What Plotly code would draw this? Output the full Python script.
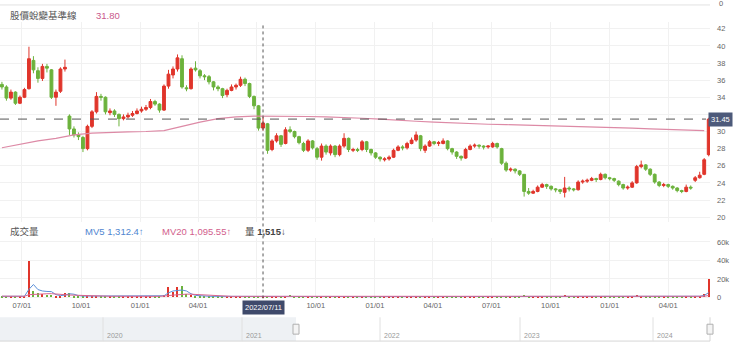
import plotly.graph_objects as go
import pandas as pd

W, H = 740, 353
PR = 710  # right edge of plot area in px

# ---------------- data (weekly) ----------------
dates = pd.date_range("2021-05-31", periods=158, freq="7D")

open_ = [35.5, 35.2, 33.9, 34.6, 33.3, 34.0, 35.0, 38.3, 37.1, 36.2,
         37.6, 37.2, 34.0, 34.7, 37.3, 31.8, 30.3, 29.6, 29.3, 28.0,
         30.6, 32.3, 34.1, 34.0, 32.2, 32.4, 32.0, 31.5, 31.7, 31.9,
         32.1, 32.4, 32.6, 32.8, 33.5, 33.2, 32.5, 35.3, 36.6, 37.3,
         38.5, 35.1, 35.0, 37.4, 37.1, 36.5, 36.4, 35.8, 35.2, 35.0,
         34.3, 34.8, 35.2, 35.4, 36.1, 35.6, 34.1, 33.0, 30.4, 30.9,
         27.9, 28.9, 29.5, 28.6, 30.2, 30.0, 29.4, 28.6, 27.8, 28.9,
         28.0, 27.0, 28.3, 27.5, 28.3, 27.3, 28.3, 29.2, 27.8, 27.9,
         27.9, 28.8, 27.9, 27.5, 27.0, 26.7, 26.8, 27.0, 27.8, 28.2,
         28.1, 28.6, 29.0, 29.5, 27.8, 28.3, 28.8, 28.6, 28.6, 28.9,
         28.0, 27.6, 27.1, 26.9, 27.9, 28.3, 28.4, 28.3, 28.2, 28.2,
         28.6, 28.0, 26.3, 25.5, 25.6, 25.4, 25.0, 23.0, 22.8, 23.0,
         23.5, 23.8, 23.6, 23.3, 23.2, 22.9, 23.4, 23.3, 23.2, 24.1,
         24.2, 24.3, 24.5, 24.4, 25.0, 24.6, 24.5, 24.2, 23.8, 23.4,
         23.5, 24.0, 25.9, 26.1, 25.6, 25.0, 24.1, 23.7, 23.8, 23.6,
         23.4, 23.1, 23.0, 23.5, 24.3, 24.6, 25.0, 27.3]
high = [35.8, 35.4, 34.9, 34.7, 34.2, 35.1, 39.9, 38.8, 37.5, 37.9,
        37.9, 37.3, 34.9, 37.5, 38.4, 32.0, 30.6, 29.9, 29.5, 30.8,
        32.5, 34.6, 34.4, 34.1, 32.7, 32.6, 32.1, 32.0, 32.2, 32.4,
        32.7, 32.9, 33.1, 33.8, 33.7, 33.3, 35.5, 37.2, 37.6, 39.0,
        38.9, 35.4, 37.5, 38.2, 37.3, 36.7, 36.6, 35.9, 35.4, 35.1,
        35.0, 35.5, 35.6, 36.4, 36.3, 35.7, 34.2, 33.1, 31.7, 31.0,
        29.1, 29.8, 29.6, 30.5, 30.6, 30.1, 29.5, 28.8, 29.1, 29.0,
        28.2, 28.6, 28.5, 28.5, 28.4, 28.5, 29.8, 29.3, 28.1, 28.1,
        29.0, 28.9, 28.0, 27.6, 27.1, 27.0, 27.2, 28.0, 28.4, 28.4,
        28.8, 29.3, 30.0, 29.6, 28.5, 29.0, 28.9, 28.9, 29.2, 29.0,
        28.1, 27.7, 27.2, 28.1, 28.5, 28.6, 28.5, 28.4, 28.4, 28.8,
        28.7, 28.1, 26.5, 25.8, 25.7, 25.5, 25.0, 23.4, 23.2, 23.7,
        24.0, 23.9, 23.7, 23.4, 23.3, 24.7, 23.6, 23.4, 24.3, 24.4,
        24.5, 24.7, 24.6, 25.2, 25.1, 24.7, 24.6, 24.3, 23.9, 23.7,
        24.2, 26.1, 26.6, 26.2, 25.7, 25.1, 24.2, 24.0, 23.9, 23.7,
        23.5, 23.2, 23.8, 23.7, 24.8, 25.3, 26.9, 31.6]
low = [34.9, 33.6, 33.7, 33.1, 33.2, 33.9, 34.9, 36.8, 35.7, 35.9,
       36.9, 33.8, 33.0, 34.5, 37.0, 29.6, 29.3, 29.0, 27.6, 27.8,
       30.4, 32.1, 33.6, 32.0, 31.9, 31.7, 30.6, 31.3, 31.5, 31.7,
       32.0, 32.2, 32.4, 32.6, 33.0, 32.2, 32.4, 35.0, 36.2, 37.0,
       35.0, 34.7, 34.9, 37.0, 36.2, 36.0, 35.5, 34.8, 34.7, 33.9,
       34.0, 34.7, 34.9, 35.2, 35.3, 33.9, 32.6, 30.1, 30.1, 27.4,
       27.7, 28.7, 28.2, 28.5, 29.8, 29.2, 28.5, 27.6, 27.6, 27.9,
       26.7, 26.6, 27.3, 27.2, 27.0, 27.1, 28.1, 27.6, 27.6, 27.6,
       27.7, 27.6, 27.2, 26.8, 26.5, 26.5, 26.6, 26.9, 27.7, 27.8,
       27.9, 28.5, 28.8, 27.7, 27.5, 28.2, 28.4, 28.3, 28.5, 27.8,
       27.3, 26.8, 26.6, 26.8, 27.8, 28.1, 28.0, 27.9, 28.0, 28.1,
       28.0, 26.1, 25.3, 25.3, 25.1, 24.8, 22.4, 22.6, 22.7, 22.9,
       23.4, 23.3, 23.1, 22.9, 22.7, 22.3, 23.0, 23.0, 23.1, 23.9,
       24.0, 24.2, 24.1, 24.3, 24.4, 24.3, 24.1, 23.6, 23.2, 23.2,
       23.4, 23.9, 25.7, 25.4, 24.8, 23.9, 23.5, 23.5, 23.4, 23.2,
       22.9, 22.8, 22.9, 23.2, 24.1, 24.5, 24.9, 27.1]
close = [35.2, 33.9, 34.6, 33.3, 34.0, 34.9, 38.5, 37.2, 36.2, 37.6,
         37.4, 34.0, 34.6, 37.3, 37.5, 30.3, 29.6, 29.4, 28.0, 30.6,
         32.3, 34.1, 34.0, 32.3, 32.4, 32.0, 31.5, 31.7, 31.9, 32.1,
         32.4, 32.6, 32.8, 33.5, 33.2, 32.5, 35.3, 36.7, 37.3, 38.6,
         35.2, 35.0, 37.3, 37.2, 36.5, 36.4, 35.8, 35.2, 35.0, 34.2,
         34.8, 35.2, 35.4, 36.1, 35.6, 34.1, 33.0, 30.4, 31.0, 27.8,
         28.9, 29.5, 28.5, 30.2, 30.0, 29.4, 28.7, 27.8, 28.9, 28.1,
         27.0, 28.3, 27.6, 28.3, 27.3, 28.3, 29.2, 27.9, 27.9, 27.8,
         28.8, 27.9, 27.5, 27.0, 26.8, 26.8, 27.0, 27.8, 28.2, 28.1,
         28.6, 29.0, 29.6, 28.0, 28.3, 28.8, 28.6, 28.7, 28.9, 28.0,
         27.6, 27.1, 26.9, 27.9, 28.3, 28.4, 28.3, 28.2, 28.3, 28.6,
         28.2, 26.3, 25.5, 25.6, 25.4, 25.0, 23.0, 22.8, 23.0, 23.5,
         23.8, 23.6, 23.3, 23.2, 23.0, 23.4, 23.3, 23.2, 24.1, 24.2,
         24.3, 24.5, 24.4, 25.0, 24.6, 24.5, 24.3, 23.8, 23.4, 23.5,
         24.0, 25.9, 26.1, 25.6, 25.0, 24.1, 23.7, 23.8, 23.6, 23.4,
         23.1, 23.0, 23.5, 23.4, 24.6, 24.9, 26.7, 31.45]

vol_k = [1.3, 1.1, 1.4, 1.2, 1.0, 1.5, 39.0, 7.5, 5.0, 3.5,
         3.0, 2.2, 1.6, 1.4, 4.5, 5.0, 2.0, 1.5, 1.3, 1.6,
         1.4, 1.8, 1.5, 1.2, 1.1, 1.0, 1.2, 1.0, 0.9, 1.1,
         1.0, 1.2, 1.1, 1.3, 1.2, 1.4, 2.5, 11.5, 6.0, 11.0,
         12.0, 4.0, 2.5, 1.8, 1.5, 1.3, 1.2, 1.1, 1.2, 1.0,
         1.1, 1.2, 1.0, 1.1, 1.3, 1.4, 1.6, 1.8, 1.5, 2.0,
         1.4, 1.2, 1.1, 1.3, 2.8, 1.2, 1.0, 1.1, 1.0, 0.9,
         1.2, 1.0, 0.9, 1.0, 1.1, 0.9, 1.6, 1.0, 0.9, 0.8,
         1.0, 0.9, 0.8, 0.9, 1.0, 0.8, 0.9, 1.1, 1.0, 0.9,
         1.2, 1.4, 1.8, 1.3, 1.0, 1.1, 0.9, 1.0, 1.2, 1.0,
         0.9, 0.8, 0.9, 1.1, 1.0, 0.9, 0.8, 0.9, 1.0, 1.1,
         0.9, 1.8, 1.3, 1.0, 0.9, 1.0, 2.5, 1.4, 1.1, 1.0,
         1.2, 1.0, 0.9, 0.8, 0.9, 3.0, 1.2, 1.0, 1.3, 1.0,
         0.9, 1.0, 0.9, 1.2, 1.0, 0.9, 0.8, 0.9, 1.0, 0.8,
         1.1, 2.2, 1.8, 1.2, 1.0, 1.1, 0.9, 0.8, 0.9, 0.8,
         0.9, 0.8, 1.0, 0.9, 1.6, 1.4, 4.0, 20.0]
mv5_k = [1.2, 1.2, 1.3, 1.2, 1.2, 1.3, 8.8, 14.0, 8.5, 7.0,
         6.5, 6.3, 3.0, 2.0, 2.5, 4.0, 3.5, 2.0, 1.5, 1.5,
         1.4, 1.6, 1.5, 1.3, 1.1, 1.1, 1.1, 1.0, 1.0, 1.0,
         1.1, 1.1, 1.1, 1.2, 1.2, 1.3, 1.8, 5.0, 7.0, 7.5,
         8.0, 7.0, 4.0, 2.2, 1.7, 1.4, 1.3, 1.2, 1.2, 1.1,
         1.1, 1.1, 1.1, 1.1, 1.2, 1.3, 1.5, 1.6, 1.6, 1.7,
         1.6, 1.4, 1.2, 1.2, 1.8, 1.6, 1.2, 1.1, 1.0, 1.0,
         1.0, 1.0, 1.0, 1.0, 1.0, 1.0, 1.2, 1.1, 1.0, 0.9,
         0.9, 0.9, 0.9, 0.9, 0.9, 0.9, 0.9, 1.0, 1.0, 1.0,
         1.1, 1.2, 1.5, 1.4, 1.2, 1.1, 1.0, 1.0, 1.1, 1.0,
         1.0, 0.9, 0.9, 1.0, 1.0, 1.0, 0.9, 0.9, 0.9, 1.0,
         1.0, 1.3, 1.3, 1.1, 1.0, 1.0, 1.6, 1.5, 1.2, 1.1,
         1.1, 1.0, 1.0, 0.9, 0.9, 1.6, 1.5, 1.2, 1.2, 1.1,
         1.0, 1.0, 1.0, 1.0, 1.0, 1.0, 0.9, 0.9, 0.9, 0.9,
         1.0, 1.5, 1.6, 1.4, 1.1, 1.0, 1.0, 0.9, 0.9, 0.8,
         0.9, 0.9, 0.9, 0.9, 1.2, 1.3, 2.2, 5.2]
mv20_k = [1.4, 1.4, 1.4, 1.3, 1.3, 1.3, 3.0, 3.4, 3.7, 3.9,
          4.0, 4.1, 4.0, 3.6, 3.0, 2.6, 2.4, 2.2, 1.9, 1.6,
          1.5, 1.5, 1.4, 1.4, 1.3, 1.3, 1.2, 1.2, 1.1, 1.1,
          1.1, 1.1, 1.1, 1.1, 1.2, 1.2, 1.3, 2.0, 2.5, 3.0,
          3.5, 3.6, 3.5, 3.2, 2.8, 2.4, 2.0, 1.6, 1.4, 1.3,
          1.2, 1.2, 1.2, 1.2, 1.2, 1.2, 1.3, 1.4, 1.4, 1.5,
          1.5, 1.5, 1.4, 1.3, 1.4, 1.4, 1.3, 1.2, 1.2, 1.1,
          1.1, 1.1, 1.0, 1.0, 1.0, 1.0, 1.0, 1.0, 1.0, 1.0,
          0.9, 0.9, 0.9, 0.9, 0.9, 0.9, 0.9, 0.9, 0.9, 0.9,
          1.0, 1.0, 1.1, 1.2, 1.2, 1.2, 1.1, 1.1, 1.1, 1.0,
          1.0, 1.0, 1.0, 1.0, 1.0, 1.0, 0.9, 0.9, 0.9, 0.9,
          0.9, 1.0, 1.1, 1.1, 1.1, 1.1, 1.3, 1.3, 1.3, 1.2,
          1.2, 1.1, 1.1, 1.0, 1.0, 1.2, 1.2, 1.2, 1.2, 1.1,
          1.1, 1.0, 1.0, 1.0, 1.0, 1.0, 1.0, 0.9, 0.9, 0.9,
          0.9, 1.1, 1.2, 1.2, 1.2, 1.1, 1.1, 1.0, 1.0, 0.9,
          0.9, 0.9, 0.9, 0.9, 1.0, 1.0, 1.3, 2.1]

# 股價蛻變基準線 (every 4 weeks)
base_dates = dates[::4]
base_vals = [28.1, 28.5, 28.9, 29.2, 29.6, 29.8, 29.9, 29.95, 30.0, 30.1,
             30.6, 31.1, 31.5, 31.7, 31.8, 31.8, 31.8, 31.75, 31.7, 31.65,
             31.55, 31.45, 31.3, 31.2, 31.1, 31.0, 30.9, 30.85, 30.8, 30.75,
             30.7, 30.6, 30.55, 30.5, 30.45, 30.4, 30.3, 30.25, 30.2, 30.1]

for arr in (open_, high, low, close, vol_k, mv5_k, mv20_k):
    assert len(arr) == len(dates), len(arr)
assert len(base_vals) == len(base_dates)

last_price = 31.45
cross_date = "2022-07-11"
price_ticks = list(range(20, 43, 2))
# the 32 label sits behind the last-price box in the reference
price_tick_text = ["" if v == 32 else str(v) for v in price_ticks]
vol_ticks = [0, 20, 40, 60]
vol_tick_text = ["0", "20k", "40k", "60k"]
x_tick_dates = ["2021-07-01", "2021-10-01", "2022-01-01", "2022-04-01", "2022-07-01",
                "2022-10-01", "2023-01-01", "2023-04-01", "2023-07-01", "2023-10-01",
                "2024-01-01", "2024-04-01"]
x_tick_text = ["07/01", "10/01", "01/01", "04/01", "", "10/01", "01/01", "04/01",
               "07/01", "10/01", "01/01", "04/01"]
nav_years = ["2020", "2021", "2022", "2023", "2024"]

# ---------------- styling helpers ----------------
FONT = "Liberation Sans, Arial, Noto Sans CJK TC, sans-serif"
UP, DOWN = "#e0352b", "#6cb23c"
GRID = "#f1f1f1"


def px(p):
    return p / PR


def py(p):
    return (H - p) / H


x_range = ["2021-05-28", "2024-06-05"]

fig = go.Figure()

fig.add_trace(go.Candlestick(
    x=dates, open=open_, high=high, low=low, close=close,
    increasing=dict(line=dict(color=UP, width=1), fillcolor=UP),
    decreasing=dict(line=dict(color=DOWN, width=1), fillcolor=DOWN),
    whiskerwidth=0, showlegend=False, hoverinfo="skip",
    xaxis="x", yaxis="y"))

fig.add_trace(go.Scatter(
    x=base_dates, y=base_vals, mode="lines",
    line=dict(color="#dd8aa6", width=1.2), showlegend=False,
    hoverinfo="skip", xaxis="x", yaxis="y"))

bar_colors = [UP if c >= o else DOWN for o, c in zip(open_, close)]
fig.add_trace(go.Bar(
    x=dates, y=vol_k, marker=dict(color=bar_colors, line=dict(width=0)),
    width=2 * 86400000, showlegend=False, hoverinfo="skip",
    xaxis="x2", yaxis="y2"))
fig.add_trace(go.Scatter(
    x=dates, y=mv5_k, mode="lines", line=dict(color="#5b8fd8", width=1),
    showlegend=False, hoverinfo="skip", xaxis="x2", yaxis="y2"))
fig.add_trace(go.Scatter(
    x=dates, y=mv20_k, mode="lines", line=dict(color="#d9648f", width=1),
    showlegend=False, hoverinfo="skip", xaxis="x2", yaxis="y2"))

price_dom = [py(224), py(22)]
vol_dom = [py(302), py(240)]
p_lo = 20 - (224 - 219) / 8.636
p_hi = 42 + (29 - 22) / 8.636
v_lo = -(302 - 300) / 0.933
v_hi = (300 - 240) / 0.933

tick_font = dict(family=FONT, size=7.5, color="#666")

fig.update_layout(
    width=W, height=H,
    margin=dict(l=0, r=W - PR, t=0, b=0),
    paper_bgcolor="white", plot_bgcolor="white",
    font=dict(family=FONT),
    showlegend=False,
    bargap=0,
    boxgap=0.1,
    xaxis=dict(domain=[0, 1], anchor="y", type="date", range=x_range,
               rangeslider=dict(visible=False), showticklabels=False,
               tickvals=x_tick_dates, showgrid=True, gridcolor=GRID,
               zeroline=False, showline=False, ticks=""),
    yaxis=dict(domain=price_dom, anchor="x", side="right", range=[p_lo, p_hi],
               tickvals=price_ticks, ticktext=price_tick_text, tickfont=tick_font,
               showgrid=True, gridcolor=GRID, zeroline=False, showline=False,
               ticks="", ticklabelstandoff=6),
    xaxis2=dict(domain=[0, 1], anchor="y2", type="date", range=x_range,
                tickvals=x_tick_dates, ticktext=x_tick_text, tickfont=tick_font,
                showgrid=True, gridcolor=GRID, zeroline=False, showline=False,
                ticks="", matches="x"),
    yaxis2=dict(domain=vol_dom, anchor="x2", side="right", range=[v_lo, v_hi],
                tickvals=vol_ticks, ticktext=vol_tick_text, tickfont=tick_font,
                showgrid=True, gridcolor=GRID, zeroline=False, showline=False,
                ticks="", ticklabelstandoff=6),
)

shapes = []
# top border of the panel above
shapes.append(dict(type="line", xref="paper", yref="paper", x0=0, x1=1,
                   y0=py(5), y1=py(5), line=dict(color="#e2e2e2", width=1)))
# crosshair
shapes.append(dict(type="line", xref="x", yref="paper", x0=cross_date, x1=cross_date,
                   y0=py(301), y1=py(25), line=dict(color="#555", width=1, dash="dot")))
shapes.append(dict(type="line", xref="paper", yref="y", x0=0, x1=px(706),
                   y0=last_price, y1=last_price,
                   line=dict(color="#555", width=1, dash="dash")))
# navigator
shapes.append(dict(type="rect", xref="paper", yref="paper", x0=0, x1=px(296),
                   y0=py(344), y1=py(320), fillcolor="#eef1f4", line=dict(width=0),
                   layer="below"))
shapes.append(dict(type="line", xref="paper", yref="paper", x0=0, x1=1,
                   y0=py(344), y1=py(344), line=dict(color="#d6d6d6", width=1)))
for xp in [103, 242, 380, 520, 653]:
    shapes.append(dict(type="line", xref="paper", yref="paper", x0=px(xp), x1=px(xp),
                       y0=py(344), y1=py(320), line=dict(color="#e0e0e0", width=1)))
shapes.append(dict(type="line", xref="paper", yref="paper", x0=px(710), x1=px(710),
                   y0=py(344), y1=py(320), line=dict(color="#d6d6d6", width=1)))
for hx in [296, 710]:
    shapes.append(dict(type="rect", xref="paper", yref="paper", x0=px(hx - 3), x1=px(hx + 3),
                       y0=py(337), y1=py(327), fillcolor="#f4f4f4",
                       line=dict(color="#b0b0b0", width=1)))
fig.update_layout(shapes=shapes)

ann = []


def text(x, y, s, size=9.5, color="#555", anchor="left", **kw):
    ann.append(dict(x=px(x), y=py(y), xref="paper", yref="paper", text=s,
                    showarrow=False, xanchor=anchor, yanchor="middle",
                    font=dict(family=FONT, size=size, color=color), **kw))


text(8, 16, "股價蛻變基準線", size=9.5, color="#555")
text(94, 16, "31.80", size=9.5, color="#c9588b")
text(717, 4, "0", size=7.5, color="#666")
text(8, 233, "成交量", size=9.5, color="#555")
text(83, 233, "MV5 1,312.4↑", size=9.5, color="#4f86d0")
text(160, 233, "MV20 1,095.55↑", size=9.5, color="#d2608c")
text(243, 233, "量 <b>1,515</b>↓", size=9.5, color="#444")
for yr, xp in zip(nav_years, [103, 242, 380, 520, 653]):
    text(xp + 2, 338, yr, size=7, color="#999")

# last price box
ann.append(dict(x=px(708), y=last_price, xref="paper", yref="y", text="31.45",
                showarrow=False, xanchor="left", yanchor="middle",
                bgcolor="#4d5a7a", borderpad=2,
                font=dict(family=FONT, size=7.5, color="white")))
# crosshair date box
ann.append(dict(x=cross_date, y=py(310), xref="x2", yref="paper", text="2022/07/11",
                showarrow=False, xanchor="center", yanchor="middle",
                bgcolor="#3f4a6b", borderpad=2,
                font=dict(family=FONT, size=7.5, color="white")))
fig.update_layout(annotations=ann)

fig.write_html("out.html")
